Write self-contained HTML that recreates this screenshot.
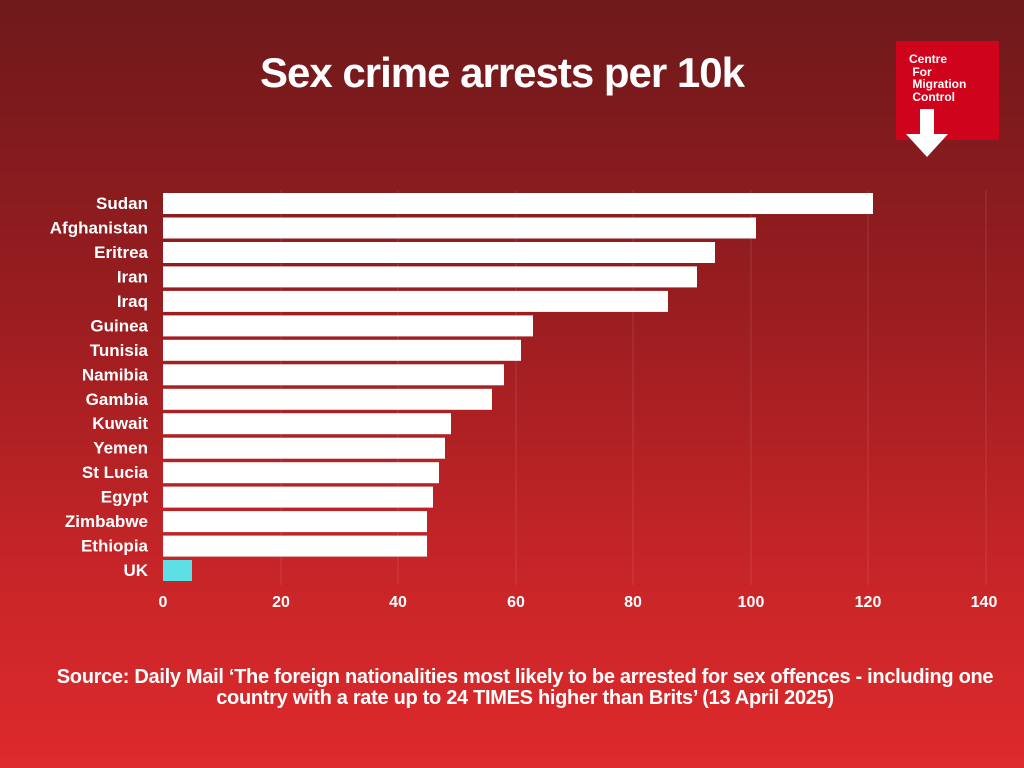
<!DOCTYPE html>
<html><head><meta charset="utf-8"><style>
body{margin:0;width:1024px;height:768px;overflow:hidden;background:linear-gradient(180deg,#6e191b 0%,#9a1d20 40%,#c82528 75%,#de2a2c 100%);font-family:"Liberation Sans",sans-serif;color:#fff;position:relative}
.t{position:absolute;left:0;width:1004px;text-align:center;top:49px;font-size:42px;font-weight:bold;letter-spacing:-1px}
.logo{position:absolute;left:896px;top:41px;width:103px;height:99px;background:#d0031d}
.logo div{position:absolute;left:13px;top:12px;font-size:12px;font-weight:bold;line-height:12.5px}
.src{position:absolute;left:20px;width:1010px;text-align:center;top:667px;font-size:20px;font-weight:bold;line-height:21px;letter-spacing:-0.3px;white-space:nowrap}
</style></head><body>
<div class="t">Sex crime arrests per 10k</div>
<div class="logo"><div>Centre<br>&nbsp;For<br>&nbsp;Migration<br>&nbsp;Control</div></div>
<svg style="position:absolute;left:0;top:0" width="1024" height="768">
<polygon points="920,109 934,109 934,134 948,134 927,157 906,134 920,134" fill="#fff"/>
<g stroke="#ffffff" stroke-opacity="0.12" stroke-width="1">
<line x1="281" y1="190" x2="281" y2="585"/><line x1="398" y1="190" x2="398" y2="585"/><line x1="516" y1="190" x2="516" y2="585"/><line x1="633" y1="190" x2="633" y2="585"/><line x1="751" y1="190" x2="751" y2="585"/><line x1="868" y1="190" x2="868" y2="585"/><line x1="986" y1="190" x2="986" y2="585"/>
</g>
<g fill="#fff">
<rect x="163" y="193" width="710" height="21"/>
<rect x="163" y="217.5" width="593" height="21"/>
<rect x="163" y="242" width="552" height="21"/>
<rect x="163" y="266.4" width="534" height="21"/>
<rect x="163" y="290.9" width="505" height="21"/>
<rect x="163" y="315.4" width="370" height="21"/>
<rect x="163" y="339.8" width="358" height="21"/>
<rect x="163" y="364.3" width="341" height="21"/>
<rect x="163" y="388.8" width="329" height="21"/>
<rect x="163" y="413.2" width="288" height="21"/>
<rect x="163" y="437.7" width="282" height="21"/>
<rect x="163" y="462.2" width="276" height="21"/>
<rect x="163" y="486.6" width="270" height="21"/>
<rect x="163" y="511.1" width="264" height="21"/>
<rect x="163" y="535.6" width="264" height="21"/>
</g>
<rect x="163" y="560" width="29" height="21" fill="#5ce0e6"/>
<g fill="#fff" font-family="Liberation Sans" font-weight="bold" font-size="17" text-anchor="end">
<text x="148" y="209">Sudan</text><text x="148" y="233.5">Afghanistan</text><text x="148" y="258">Eritrea</text><text x="148" y="282.4">Iran</text><text x="148" y="306.9">Iraq</text><text x="148" y="331.4">Guinea</text><text x="148" y="355.8">Tunisia</text><text x="148" y="380.3">Namibia</text><text x="148" y="404.8">Gambia</text><text x="148" y="429.2">Kuwait</text><text x="148" y="453.7">Yemen</text><text x="148" y="478.2">St Lucia</text><text x="148" y="502.6">Egypt</text><text x="148" y="527.1">Zimbabwe</text><text x="148" y="551.6">Ethiopia</text><text x="148" y="576">UK</text>
</g>
<g fill="#fff" font-family="Liberation Sans" font-weight="bold" font-size="16" text-anchor="middle">
<text x="163" y="607">0</text><text x="281" y="607">20</text><text x="398" y="607">40</text><text x="516" y="607">60</text><text x="633" y="607">80</text><text x="751" y="607">100</text><text x="868" y="607">120</text><text x="984" y="607">140</text>
</g>
</svg>
<div class="src">Source: Daily Mail ‘The foreign nationalities most likely to be arrested for sex offences - including one<br>country with a rate up to 24 TIMES higher than Brits’ (13 April 2025)</div>
</body></html>
